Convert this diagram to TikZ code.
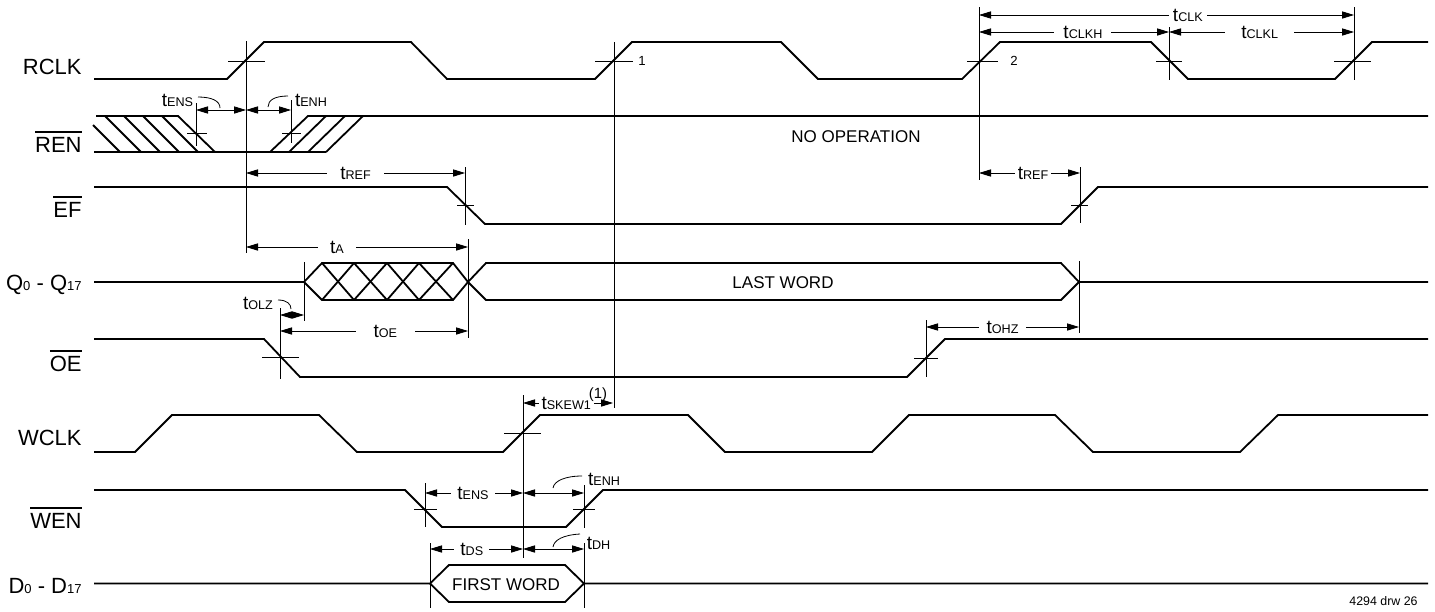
\documentclass[tikz,border=0pt]{standalone}
\usepackage{fontspec}
\setmainfont{Liberation Sans}
\usetikzlibrary{arrows.meta}
\newcommand{\tsub}[1]{{\fontsize{9.5}{10}\selectfont t}{\fontsize{6.3}{7}\selectfont #1}}
\newcommand{\ovl}[1]{\leavevmode\vbox{\hrule height 0.8pt\kern 2pt\hbox{#1}}}
\newcommand{\smdig}[1]{{\fontsize{6.5}{7}\selectfont #1}}
\begin{document}
\begin{tikzpicture}[x=0.5pt,y=-0.5pt,
  sig/.style={line width=0.9pt, line join=miter},
  thin/.style={line width=0.4pt},
  dim/.style={line width=0.4pt, {Triangle[length=6pt,width=3.6pt]}-{Triangle[length=6pt,width=3.6pt]}},
  tlab/.style={fill=white, inner ysep=0pt, inner xsep=3.5pt},
  plab/.style={inner sep=0pt},
  lab/.style={anchor=base east, font=\fontsize{11}{13}\selectfont, inner sep=0pt},
  bustext/.style={font=\fontsize{8.5}{10}\selectfont, inner sep=0pt},
  small/.style={font=\fontsize{6.6}{7}\selectfont, inner sep=0pt}]
\useasboundingbox (0,0) rectangle (1435,611);

% ---------- signal names ----------
\node[lab] (lrclk) at (82,74) {RCLK};
\node[lab] (lren) at (82,152) {\ovl{REN}};
\node[lab] (lef) at (82,217) {\ovl{EF}};
\node[lab] (lq) at (82,290) {Q\smdig{0} - Q\smdig{17}};
\node[lab] (loe) at (82,371) {\ovl{OE}};
\node[lab] (lwclk) at (82,445) {WCLK};
\node[lab] (lwen) at (82,528) {\ovl{WEN}};
\node[lab] (ld) at (82,593) {D\smdig{0} - D\smdig{17}};

% ---------- RCLK ----------
\draw[sig] (94,79) -- (227,79) -- (264,42) -- (411,42) -- (447,79) -- (595,79) -- (632,42)
  -- (781,42) -- (818,79) -- (962,79) -- (1000,42) -- (1151,42) -- (1188,79) -- (1335,79)
  -- (1372,42) -- (1428,42);
\draw[thin] (228,61) -- (265,61);
\draw[thin] (595,61) -- (633,61);
\draw[thin] (967,61) -- (998,61);
\draw[thin] (1156,61) -- (1182,61);
\draw[thin] (1334,61) -- (1371,61);
\node[small] (n1) at (642,61) {1};
\node[small] (n2) at (1014,61) {2};
% reference verticals
\draw[thin] (246,41) -- (246,253);
\draw[thin] (614,42) -- (614,408);
\draw[thin] (979,7) -- (979,180);
\draw[thin] (1169,27) -- (1169,80);
\draw[thin] (1354,7) -- (1354,80);
% clock period dimensions
\draw[dim] (979,15) -- (1354,15) node[tlab, inner xsep=2.2pt, pos=0.557] (tclk) {\tsub{CLK}};
\draw[dim] (979,32) -- (1169,32) node[tlab, inner xsep=4.5pt, pos=0.547] (tclkh) {\tsub{CLKH}};
\draw[dim] (1169,32) -- (1354,32) node[tlab, inner xsep=8pt, pos=0.49] (tclkl) {\tsub{CLKL}};

% ---------- REN ----------
\draw[sig] (96,116) -- (178,116) -- (215,152);
\draw[sig] (94,152) -- (326,152);
\draw[sig] (270,152) -- (308,116) -- (1428,116);
\draw[sig] (93,125) -- (120,152);
\foreach \a in {105,124,143,162} \draw[sig] (\a,116) -- ({\a+36},152);
\foreach \a in {289,308,326} \draw[sig] (\a,152) -- ({\a+37},116);
\draw[thin] (196,103) -- (196,146);
\draw[thin] (187,133) -- (207,133);
\draw[thin] (291,100) -- (291,143);
\draw[thin] (282,133) -- (301,133);
\draw[dim] (196,110) -- (246,110);
\draw[dim] (246,110) -- (291,110);
\node[plab] (tens1) at (177.5,100.5) {\tsub{ENS}};
\node[plab] (tenh1) at (311,100) {\tsub{ENH}};
\draw[thin] (198,97) .. controls (212,97) and (220,101) .. (220,108);
\draw[thin] (288,96) .. controls (275,96) and (268,100) .. (268,107);
\node[bustext] (noop) at (856,137) {NO OPERATION};

% ---------- EF ----------
\draw[sig] (94,187) -- (447,187) -- (485,224) -- (1061,224) -- (1098,187) -- (1428,187);
\draw[thin] (465,167) -- (465,225);
\draw[thin] (457,205) -- (474,205);
\draw[thin] (1080,167) -- (1080,223);
\draw[thin] (1071,205) -- (1088,205);
\draw[dim] (246,173) -- (465,173) node[tlab, inner xsep=6.5pt, pos=0.5] (tref1) {\tsub{REF}};
\draw[dim] (979,173) -- (1080,173) node[tlab, inner xsep=1.5pt, pos=0.535] (tref2) {\tsub{REF}};

% ---------- Q0 - Q17 ----------
\draw[sig] (94,282) -- (304,282) -- (322,263) -- (453,263) -- (468,282) -- (486,300)
  -- (1061,300) -- (1079,282) -- (1428,282);
\draw[sig] (304,282) -- (322,300) -- (453,300) -- (468,282) -- (486,263) -- (1061,263) -- (1079,282);
\foreach \a/\b in {322/354,354/387,387/419,419/453} {
  \draw[sig] (\a,263) -- (\b,300);
  \draw[sig] (\a,300) -- (\b,263);
}
\node[bustext] (last) at (783,283) {LAST WORD};
\draw[thin] (304,262) -- (304,321);
\draw[thin] (468,239) -- (468,338);
\draw[thin] (1079,261) -- (1079,333);
\draw[dim] (246,247) -- (468,247) node[tlab, inner xsep=6pt, pos=0.41] (ta) {\tsub{A}};
\draw[dim] (280,315) -- (304,315);
\node[plab] (tolz) at (258,303) {\tsub{OLZ}};
\draw[thin] (278,300) .. controls (287,300) and (291,304) .. (291,309);
\draw[dim] (280,331) -- (468,331) node[tlab, inner xsep=9pt, pos=0.56] (toe) {\tsub{OE}};

% ---------- OE ----------
\draw[sig] (94,339) -- (264,339) -- (300,377) -- (907,377) -- (945,339) -- (1428,339);
\draw[thin] (280,308) -- (280,379);
\draw[thin] (262,357) -- (299,357);
\draw[thin] (926,320) -- (926,377);
\draw[thin] (914,358) -- (938,358);
\draw[dim] (926,327) -- (1079,327) node[tlab, inner xsep=4pt, pos=0.5] (tohz) {\tsub{OHZ}};

% ---------- WCLK ----------
\draw[sig] (94,452) -- (135,452) -- (172,415) -- (319,415) -- (357,452) -- (503,452) -- (540,415)
  -- (688,415) -- (725,452) -- (872,452) -- (909,415) -- (1055,415) -- (1093,452) -- (1240,452)
  -- (1278,415) -- (1428,415);
\draw[thin] (504,433) -- (541,433);
\draw[thin] (523,395) -- (523,558);
\draw[dim] (523,403) -- (613,403) node[tlab, inner xsep=1.5pt, pos=0.48] (tskew) {\tsub{SKEW1}};
\node[font=\fontsize{7.4}{8}\selectfont, inner sep=0pt] (skewnote) at (598,395) {(1)};

% ---------- WEN ----------
\draw[sig] (94,490) -- (405,490) -- (442,527) -- (566,527) -- (603,490) -- (1428,490);
\draw[thin] (425,483) -- (425,527);
\draw[thin] (414,509) -- (437,509);
\draw[thin] (584,485) -- (584,528);
\draw[thin] (573,509) -- (595,509);
\draw[dim] (425,493) -- (523,493) node[tlab, inner xsep=3pt, pos=0.49] (tens2) {\tsub{ENS}};
\draw[dim] (523,493) -- (584,493);
\node[plab] (tenh2) at (604,479) {\tsub{ENH}};
\draw[thin] (582,476) .. controls (565,476) and (554,481) .. (553,488);

% ---------- D0 - D17 ----------
\draw[sig] (94,583.5) -- (430,583.5) -- (449,565) -- (565,565) -- (584,583.5) -- (1428,583.5);
\draw[sig] (430,583.5) -- (449,602) -- (565,602) -- (584,583.5);
\node[bustext] (first) at (506,585) {FIRST WORD};
\draw[thin] (430,543) -- (430,608);
\draw[thin] (584,543) -- (584,608);
\draw[dim] (430,549) -- (523,549) node[tlab, inner xsep=3pt, pos=0.45] (tds) {\tsub{DS}};
\draw[dim] (523,549) -- (584,549);
\node[plab] (tdh) at (598.5,543.5) {\tsub{DH}};
\draw[thin] (580,534) .. controls (563,535) and (554,540) .. (553,547);

\node[font=\fontsize{6.2}{7}\selectfont, anchor=base east, inner sep=0pt] (drw) at (1418,605) {4294 drw 26};
\end{tikzpicture}
\end{document}
